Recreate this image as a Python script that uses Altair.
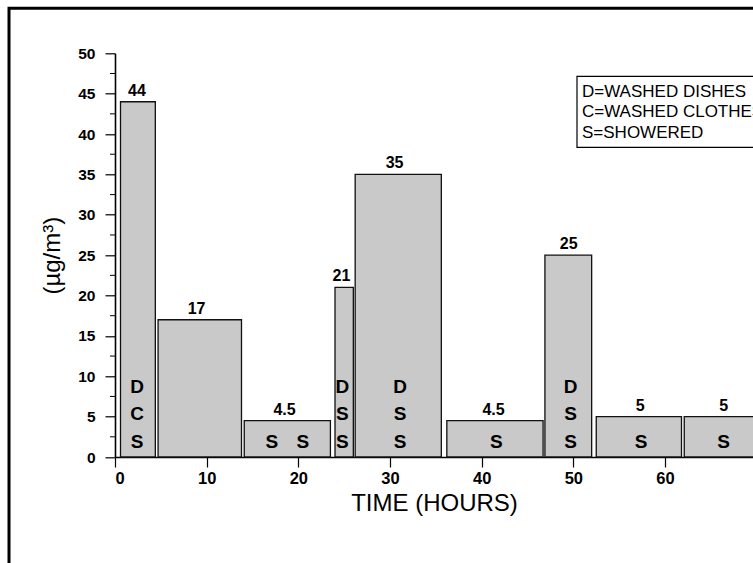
import altair as alt
import pandas as pd

# ---- data ----
bar_start = [0.6, 4.7, 14.1, 24.0, 26.2, 36.2, 46.9, 52.5, 62.1]
bar_end = [4.4, 13.8, 23.5, 26.0, 35.6, 46.7, 52.0, 61.8, 71.0]
conc = [44, 17, 4.5, 21, 35, 4.5, 25, 5, 5]
conc_text = ["44", "17", "4.5", "21", "35", "4.5", "25", "5", "5"]
conc_text_x = [2.4, 8.9, 18.5, 24.7, 30.5, 41.3, 49.5, 57.3, 66.4]

letter = ["D", "C", "S", "S", "S", "D", "S", "S", "D", "S", "S", "S", "D", "S", "S", "S", "S"]
letter_x = [2.4, 2.4, 2.4, 17.1, 20.5, 24.8, 24.8, 24.8, 31.1, 31.1, 31.1, 41.6, 49.7, 49.7, 49.7, 57.4, 66.4]
letter_row = [2, 1, 0, 0, 0, 2, 1, 0, 2, 1, 0, 0, 2, 1, 0, 0, 0]
row_level = [1.9, 5.3, 8.7]

legend_lines = ["D=WASHED DISHES", "C=WASHED CLOTHES", "S=SHOWERED"]

x_ticks = [0, 10, 20, 30, 40, 50, 60]
y_ticks = [0, 5, 10, 15, 20, 25, 30, 35, 40, 45, 50]
y_minor = [2.5, 7.5, 12.5, 17.5, 22.5, 27.5, 32.5, 37.5, 42.5, 47.5]

FONT = "Liberation Sans"

bars_df = pd.DataFrame({"start": bar_start, "end": bar_end, "conc": conc,
                        "base": [0] * len(conc)})
vals_df = pd.DataFrame({"x": conc_text_x, "y": conc, "t": conc_text})
let_df = pd.DataFrame({"x": letter_x, "y": [row_level[r] for r in letter_row], "t": letter})
minor_df = pd.DataFrame({"v": y_minor})

xs = alt.Scale(domain=[0, 69.6], nice=False, zero=False)
ys = alt.Scale(domain=[0, 50], nice=False)

x_axis = alt.Axis(
    values=x_ticks, title="TIME (HOURS)", grid=False,
    tickSize=10, tickColor="black", tickWidth=1.2,
    domainColor="black", domainWidth=1.6,
    labelFont=FONT, labelFontSize=16.5, labelFontWeight="bold", labelColor="black",
    labelPadding=3,
    titleFont=FONT, titleFontSize=24, titleFontWeight="normal", titleColor="black",
    titleY=53, titleBaseline="alphabetic")
y_axis = alt.Axis(
    values=y_ticks, title="(µg/m³)", grid=False,
    tickSize=10, tickColor="black", tickWidth=1.2,
    domainColor="black", domainWidth=1.6,
    labelFont=FONT, labelFontSize=15.5, labelFontWeight="bold", labelColor="black",
    labelPadding=10,
    titleFont=FONT, titleFontSize=24, titleFontWeight="normal", titleColor="black",
    titleX=-63, titleBaseline="middle")

frame = alt.Chart(pd.DataFrame({"a": [0]})).mark_rect(
    fill=None, stroke="black", strokeWidth=3
).encode(x=alt.value(-106), x2=alt.value(760), y=alt.value(-45), y2=alt.value(600))

bars = alt.Chart(bars_df).mark_rect(
    fill="#c9c9c9", stroke="#111111", strokeWidth=1.3
).encode(
    x=alt.X("start:Q", scale=xs, axis=x_axis),
    x2="end:Q",
    y=alt.Y("base:Q", scale=ys, axis=y_axis),
    y2="conc:Q",
)

minor = alt.Chart(minor_df).mark_rule(color="black", strokeWidth=1).encode(
    y=alt.Y("v:Q", scale=ys, axis=y_axis), x=alt.value(-5), x2=alt.value(0)
)

values = alt.Chart(vals_df).mark_text(
    font=FONT, fontSize=16, fontWeight="bold", color="black", baseline="alphabetic", dy=-6
).encode(
    x=alt.X("x:Q", scale=xs, axis=x_axis), y=alt.Y("y:Q", scale=ys, axis=y_axis), text="t:N"
)

letters = alt.Chart(let_df).mark_text(
    font=FONT, fontSize=19, fontWeight="bold", color="black", baseline="middle"
).encode(
    x=alt.X("x:Q", scale=xs, axis=x_axis), y=alt.Y("y:Q", scale=ys, axis=y_axis), text="t:N"
)

legend_box = alt.Chart(pd.DataFrame({"a": [0]})).mark_rect(
    fill="white", stroke="black", strokeWidth=1.2
).encode(x=alt.value(462), x2=alt.value(700), y=alt.value(23), y2=alt.value(94))

legend_layers = []
for i, line in enumerate(legend_lines):
    legend_layers.append(
        alt.Chart(pd.DataFrame({"t": [line]})).mark_text(
            font=FONT, fontSize=17, color="black", align="left", baseline="middle"
        ).encode(text="t:N", x=alt.value(467), y=alt.value(38.5 + 20.5 * i))
    )

chart = alt.layer(frame, bars, minor, values, letters, legend_box, *legend_layers).properties(
    width=638, height=403.7,
    autosize=alt.AutoSizeParams(type="none"),
    padding={"left": 115, "top": 53.3, "right": 0, "bottom": 106},
    background="white",
).configure_view(stroke=None)

chart.save("out.html", embed_options={"renderer": "svg", "actions": False})
